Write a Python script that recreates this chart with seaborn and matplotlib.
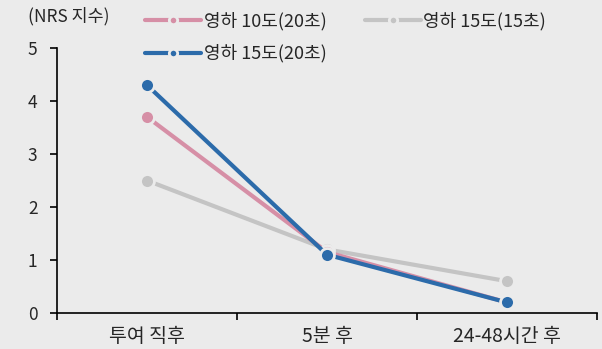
import matplotlib
matplotlib.use("Agg")
import matplotlib.pyplot as plt
from matplotlib.lines import Line2D
import seaborn as sns
import pandas as pd

# Pain score (NRS) by time point and cryotherapy condition
timepoints = ["투여 직후", "5분 후", "24-48시간 후"]
series_names = ["영하 10도(20초)", "영하 15도(15초)", "영하 15도(20초)"]
minus10_20s = [3.7, 1.15, 0.2]
minus15_15s = [2.5, 1.2, 0.6]
minus15_20s = [4.3, 1.1, 0.2]
yticks = [0, 1, 2, 3, 4, 5]

colors = {"영하 10도(20초)": "#D68FA6",
          "영하 15도(15초)": "#C4C4C4",
          "영하 15도(20초)": "#2C6BAA"}

rows = []
for name, vals in zip(series_names, [minus10_20s, minus15_15s, minus15_20s]):
    for i, (t, v) in enumerate(zip(timepoints, vals)):
        rows.append({"series": name, "x": i, "time": t, "nrs": v})
df = pd.DataFrame(rows)

sns.set_theme(style="white")
bg = "#EBEBEB"
plt.rcParams["font.family"] = ["Noto Sans CJK KR", "DejaVu Sans"]
fs = 12.5

fig = plt.figure(figsize=(6.02, 3.49), dpi=100, facecolor=bg)
ax = fig.add_axes([57 / 602, 36 / 349, 540 / 602, 265 / 349], facecolor=bg)

# draw order: gray underneath, then pink, then blue on top
draw_order = ["영하 15도(15초)", "영하 10도(20초)", "영하 15도(20초)"]
for z, name in enumerate(draw_order):
    sub = df[df["series"] == name]
    sns.lineplot(data=sub, x="x", y="nrs", ax=ax, color=colors[name],
                 linewidth=3, marker="o", markersize=10,
                 markeredgecolor=bg, markeredgewidth=2,
                 zorder=3 + z, legend=False)

ax.set_xlim(-0.5, 2.5)
ax.set_ylim(0, 5)
ax.set_xlabel("")
ax.set_ylabel("")

# category labels at centres, tick marks at category boundaries
ax.set_xticks([-0.5, 0.5, 1.5, 2.5])
ax.set_xticklabels([])
ax.set_xticks([0, 1, 2], minor=True)
ax.set_xticklabels(timepoints, minor=True)
ax.tick_params(axis="x", which="major", direction="out", length=5, width=1.2,
               color="black", bottom=True)
ax.tick_params(axis="x", which="minor", length=0, pad=9, labelsize=14)
ax.set_yticks(yticks)
ax.tick_params(axis="y", direction="out", length=5, width=1.2, color="black",
               left=True, pad=9, labelsize=fs)

for side in ["top", "right"]:
    ax.spines[side].set_visible(False)
for side in ["left", "bottom"]:
    ax.spines[side].set_color("black")
    ax.spines[side].set_linewidth(1.2)

# legend
handles = []
for name in series_names:
    handles.append(Line2D([0], [0], color=colors[name], linewidth=3,
                          marker="o", markersize=6, markeredgecolor=bg,
                          markeredgewidth=2))
order = [0, 2, 1]
fig.legend([handles[i] for i in order], [series_names[i] for i in order],
           ncol=2, frameon=False, loc="upper left",
           bbox_to_anchor=(129 / 602, 1 + 4 / 349),
           handlelength=3.1, handletextpad=0.15, columnspacing=2.1,
           labelspacing=0.75, fontsize=13)

fig.text(28 / 602, 1 - 16 / 349, "(NRS 지수)", fontsize=fs, va="center",
         ha="left")

fig.savefig("out.png", dpi=100, facecolor=bg)
